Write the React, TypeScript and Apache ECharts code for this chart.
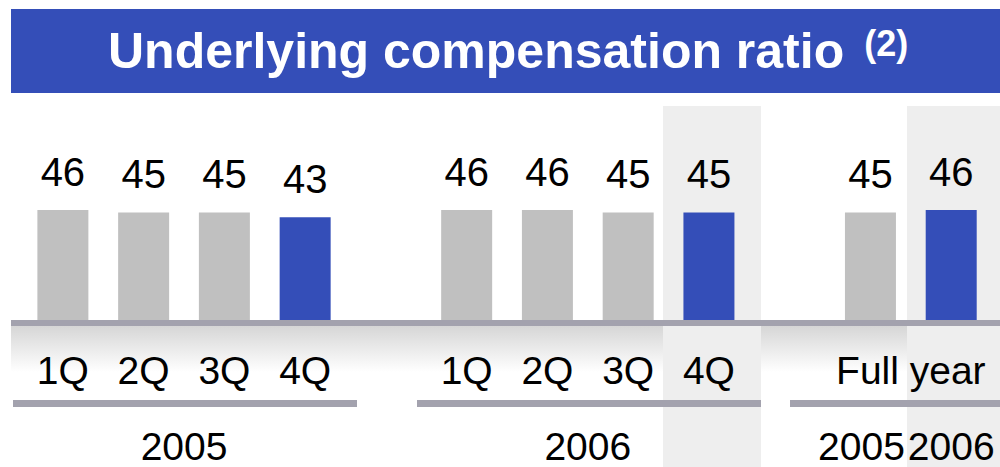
import React, { useEffect, useRef } from 'react';
import * as echarts from 'echarts';

const quarterLabels = ['1Q', '2Q', '3Q', '4Q'];
const ratio2005 = [46, 45, 45, 43];
const ratio2006 = [46, 46, 45, 45];
const fullYearLabel = 'Full year';
const fullYearYears = ['2005', '2006'];
const fullYearRatio = [45, 46];
const groupYears = ['2005', '2006'];
const titleText = 'Underlying compensation ratio';
const titleNote = '(2)';

const FONT = '"Liberation Sans", Arial, Helvetica, sans-serif';
const BLUE = '#344EB8';
const GREY_BAR = '#C0C0C0';
const RULE = '#A3A2AE';
const SHADE = '#EEEEEE';

// 12 category slots: 4 quarters, gap, 4 quarters, gap, 2 full years
const categories: string[] = [
  ...quarterLabels.map((q) => `${q} ${groupYears[0]}`),
  'gap1',
  ...quarterLabels.map((q) => `${q} ${groupYears[1]}`),
  'gap2',
  ...fullYearYears.map((y) => `FY ${y}`),
];
const values: (number | null)[] = [...ratio2005, null, ...ratio2006, null, ...fullYearRatio];
const highlighted = new Set([`4Q ${groupYears[0]}`, `4Q ${groupYears[1]}`, `FY ${fullYearYears[1]}`]);

// label axis with half-slot resolution: point k sits at slot boundary k/2
const NPTS = categories.length * 2 + 1;
const quarterTicks: string[] = Array(NPTS).fill('');
const yearTicks: string[] = Array(NPTS).fill('');
quarterLabels.forEach((q, i) => {
  quarterTicks[2 * i + 1] = q;
  quarterTicks[2 * (i + 5) + 1] = q;
});
quarterTicks[22] = fullYearLabel;
yearTicks[4] = groupYears[0];
yearTicks[14] = groupYears[1];
yearTicks[21] = fullYearYears[0];
yearTicks[23] = fullYearYears[1];

export default function App() {
  const ref = useRef<HTMLDivElement>(null);
  useEffect(() => {
    if (!ref.current) return;
    const chart = echarts.init(ref.current, undefined, { renderer: 'svg' });
    const rect = (x: number, y: number, w: number, h: number, fill: any) => ({
      type: 'rect',
      z: 0,
      silent: true,
      shape: { x, y, width: w, height: h },
      style: { fill },
    });
    chart.setOption({
      animation: false,
      title: {
        text: `{a|${titleText}}{b|${titleNote}}`,
        left: 108,
        top: 23,
        padding: 0,
        z: 10,
        textStyle: {
          rich: {
            a: { fontSize: 50, fontWeight: 'bold', color: '#fff', fontFamily: FONT, lineHeight: 56 },
            b: {
              fontSize: 36,
              fontWeight: 'bold',
              color: '#fff',
              fontFamily: FONT,
              verticalAlign: 'top',
              lineHeight: 38,
              padding: [2, 0, 0, 20],
            },
          },
        },
      },
      graphic: [
        rect(11, 9, 989, 84, BLUE),
        rect(11, 326, 989, 46, {
          type: 'linear',
          x: 0,
          y: 0,
          x2: 0,
          y2: 1,
          colorStops: [
            { offset: 0, color: '#D6D6D6' },
            { offset: 1, color: '#FFFFFF' },
          ],
        }),
        rect(663, 106, 98, 361, SHADE),
        rect(907, 106, 93, 361, SHADE),
        rect(11, 320, 989, 6, RULE),
        rect(13, 400, 344, 7, RULE),
        rect(417, 400, 344, 7, RULE),
        rect(790, 400, 210, 7, RULE),
      ],
      grid: { left: 22.5, right: 4.5, top: 81, bottom: 147, containLabel: false },
      xAxis: [
        {
          type: 'category',
          position: 'top',
          data: categories,
          show: false,
        },
        {
          type: 'category',
          position: 'bottom',
          boundaryGap: false,
          data: quarterTicks.map((_, i) => String(i)),
          z: 5,
          axisLine: { show: false },
          axisTick: { show: false },
          splitLine: { show: false },
          axisLabel: {
            interval: 0,
            margin: 20,
            formatter: (_v: string, i: number) => {
              const q = quarterTicks[i] || ' ';
              const y = yearTicks[i] || ' ';
              const ys = i === 21 ? 'yl' : 'y';
              return `{q|${q}}\n{${ys}|${y}}`;
            },
            rich: {
              q: { fontSize: 39, color: '#000', fontFamily: FONT, lineHeight: 60 },
              y: { fontSize: 39, color: '#000', fontFamily: FONT, lineHeight: 92 },
              yl: { fontSize: 39, color: '#000', fontFamily: FONT, lineHeight: 92, padding: [0, 18, 0, 0] },
            },
          },
        },
      ],
      yAxis: { type: 'value', min: 0, max: 100, show: false },
      series: [
        {
          type: 'bar',
          xAxisIndex: 0,
          barWidth: 51,
          z: 3,
          data: values.map((v, i) => ({
            value: v,
            itemStyle: { color: highlighted.has(categories[i]) ? BLUE : GREY_BAR },
          })),
          label: {
            show: true,
            position: 'top',
            distance: 18,
            fontSize: 40,
            color: '#000',
            fontFamily: FONT,
            formatter: '{c}',
          },
        },
      ],
    });
    return () => chart.dispose();
  }, []);
  return (
    <div
      ref={ref}
      style={{ position: 'fixed', left: 0, top: 0, width: 1000, height: 467, background: '#fff' }}
    />
  );
}
